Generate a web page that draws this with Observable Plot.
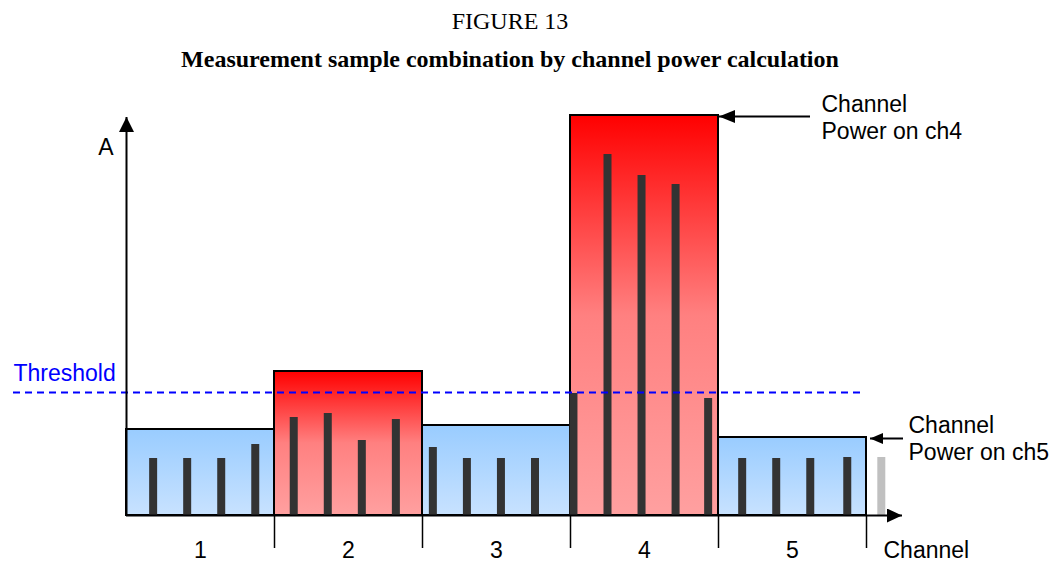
<!DOCTYPE html>
<html>
<head>
<meta charset="utf-8">
<script src="https://cdn.jsdelivr.net/npm/d3@7"></script>
<script src="https://cdn.jsdelivr.net/npm/@observablehq/plot@0.6"></script>
<style>
  body { margin: 0; background: #ffffff; }
  #wrap { position: relative; width: 1056px; height: 562px; overflow: hidden; }
  #t1 { position: absolute; left: 0; width: 1020px; top: 9px; text-align: center;
        font-family: "Liberation Serif", serif; font-size: 24px; line-height: 24px; color: #000; }
  #t2 { position: absolute; left: 0; width: 1020px; top: 47px; text-align: center;
        font-family: "Liberation Serif", serif; font-size: 24px; line-height: 24px; font-weight: bold; color: #000; }
  #chart { position: absolute; left: 0; top: 80px; }
</style>
</head>
<body>
<div id="wrap">
  <div id="t1"></div>
  <div id="t2"></div>
  <div id="chart"></div>
</div>
<script>
// ---- data ----
const titleText = "FIGURE 13";
const subtitleText = "Measurement sample combination by channel power calculation";
const channels = ["1", "2", "3", "4", "5"];
const channelPower = [21.5, 36, 22.5, 100, 19.5];
const thresholdLevel = 30.75;
const samplePos = [0.18, 0.41, 0.64, 0.87, 1.13, 1.36, 1.59, 1.82, 2.07, 2.30, 2.53, 2.76,
                   3.02, 3.25, 3.48, 3.71, 3.93, 4.16, 4.39, 4.62, 4.87, 5.10];
const sampleAmp = [14.25, 14.25, 14.25, 17.75, 24.5, 25.5, 18.75, 24, 17, 14.25, 14.25, 14.25,
                   30.5, 90.25, 85, 82.75, 29.25, 14.25, 14.25, 14.25, 14.5, 14.5];
const annotChannels = [4, 5];
const annotLabels = ["Channel\nPower on ch4", "Channel\nPower on ch5"];
const yLabel = "A";
const xLabel = "Channel";
const thresholdLabel = "Threshold";

document.getElementById("t1").textContent = titleText;
document.getElementById("t2").textContent = subtitleText;

const chData = channels.map((c, i) => ({label: c, x1: i, x2: i + 1, mid: i + 0.5, power: channelPower[i]}));
const samples = samplePos.map((p, i) => ({pos: p, amp: sampleAmp[i]}));
const nCh = channels.length;
const boundaries = d3.range(1, nCh + 1);
const annots = annotChannels.map((c, i) => ({edge: c, power: channelPower[c - 1], text: annotLabels[i]}));

const sans = "Liberation Sans, Arial, sans-serif";
const fs = 23;

// near-black stroke tags so the arrow lines can be found after rendering
const tagY = "#000001", tagX = "#000002", tagA0 = "#000003", tagA1 = "#000004";

const chart = Plot.plot({
  width: 1056,
  height: 482,
  marginLeft: 126,
  marginRight: 190,
  marginTop: 35,
  marginBottom: 47,
  x: {domain: [0, nCh], axis: null},
  y: {domain: [0, 100], axis: null},
  style: {background: "white", fontFamily: sans},
  marks: [
    Plot.rect(chData, {filter: d => d.power <= thresholdLevel, x1: "x1", x2: "x2", y1: 0, y2: "power",
      fill: "url(#gradBlue)", stroke: "black", strokeWidth: 2}),
    Plot.rect(chData, {filter: d => d.power > thresholdLevel, x1: "x1", x2: "x2", y1: 0, y2: "power",
      fill: "url(#gradRed)", stroke: "black", strokeWidth: 2}),
    Plot.ruleX(samples, {filter: d => d.pos <= nCh, x: "pos", y1: 0, y2: "amp", stroke: "#333333", strokeWidth: 8}),
    Plot.ruleX(samples, {filter: d => d.pos > nCh, x: "pos", y1: 0, y2: "amp", stroke: "#c0c0c0", strokeWidth: 8}),
    Plot.ruleY([thresholdLevel], {stroke: "#0000ff", strokeWidth: 1.8, strokeDasharray: "7,5",
      insetLeft: -113, insetRight: 5}),
    Plot.text([thresholdLabel], {text: d => d, y: [thresholdLevel], frameAnchor: "left", textAnchor: "start",
      lineAnchor: "bottom", dx: -113, dy: -12, fill: "#0000ff", fontSize: fs, fontFamily: sans}),
    // axes
    Plot.ruleX([0], {stroke: tagY, strokeWidth: 2, insetTop: 2}),
    Plot.ruleY([0], {stroke: tagX, strokeWidth: 2, insetRight: -36}),
    Plot.ruleX(boundaries, {y1: 0, y2: 0, insetBottom: -33, stroke: "black", strokeWidth: 1.5}),
    Plot.text(chData, {x: "mid", y: 0, text: "label", dy: 42, lineAnchor: "bottom",
      fontSize: fs, fontFamily: sans, fill: "black"}),
    Plot.text([xLabel], {text: d => d, x: [nCh], y: [0], dx: 17, dy: 42, textAnchor: "start",
      lineAnchor: "bottom", fontSize: fs, fontFamily: sans, fill: "black"}),
    Plot.text([yLabel], {text: d => d, frameAnchor: "top-left", textAnchor: "end", lineAnchor: "bottom",
      dx: -13, dy: 39, fontSize: fs, fontFamily: sans, fill: "black"}),
    // annotations
    Plot.ruleY([annots[0]], {y: "power", x1: "edge", x2: "edge", insetLeft: 1, insetRight: -92, dy: 1,
      stroke: tagA0, strokeWidth: 2}),
    Plot.text([annots[0]], {x: "edge", y: "power", text: "text", dx: 103, dy: 23, textAnchor: "start",
      lineAnchor: "bottom", lineHeight: 1.17, fontSize: fs, fontFamily: sans, fill: "black"}),
    Plot.ruleY([annots[1]], {y: "power", x1: "edge", x2: "edge", insetLeft: 4, insetRight: -37, dy: 1,
      stroke: tagA1, strokeWidth: 2}),
    Plot.text([annots[1]], {x: "edge", y: "power", text: "text", dx: 42, dy: 22, textAnchor: "start",
      lineAnchor: "bottom", lineHeight: 1.17, fontSize: fs, fontFamily: sans, fill: "black"})
  ]
});

document.getElementById("chart").appendChild(chart);

// gradients and arrowheads
const svg = d3.select(chart);
const defs = svg.insert("defs", ":first-child");
const gb = defs.append("linearGradient").attr("id", "gradBlue").attr("x1", 0).attr("y1", 0).attr("x2", 0).attr("y2", 1);
gb.append("stop").attr("offset", "0%").attr("stop-color", "#99ccff");
gb.append("stop").attr("offset", "100%").attr("stop-color", "#c8e2ff");
const gr = defs.append("linearGradient").attr("id", "gradRed").attr("x1", 0).attr("y1", 0).attr("x2", 0).attr("y2", 1);
gr.append("stop").attr("offset", "0%").attr("stop-color", "#ff0000");
gr.append("stop").attr("offset", "50%").attr("stop-color", "#ff8080");
gr.append("stop").attr("offset", "100%").attr("stop-color", "#ffa0a0");

function marker(id, w, h) {
  const m = defs.append("marker").attr("id", id)
    .attr("viewBox", `0 0 ${w} ${h}`).attr("refX", w).attr("refY", h / 2)
    .attr("markerWidth", w).attr("markerHeight", h)
    .attr("markerUnits", "userSpaceOnUse").attr("orient", "auto-start-reverse");
  m.append("path").attr("d", `M0,0L${w},${h / 2}L0,${h}Z`).attr("fill", "black");
}
marker("headBig", 15, 15);
marker("headX", 15, 14);
marker("headA4", 16, 13);
marker("headA5", 13, 11);

function tagged(color) {
  return svg.selectAll("line").filter(function () {
    const own = this.getAttribute("stroke");
    const par = this.parentNode && this.parentNode.getAttribute("stroke");
    return own === color || par === color;
  });
}
tagged(tagY).attr("marker-start", "url(#headBig)");
tagged(tagX).attr("marker-end", "url(#headX)");
tagged(tagA0).attr("marker-start", "url(#headA4)");
tagged(tagA1).attr("marker-start", "url(#headA5)");
</script>
</body>
</html>
